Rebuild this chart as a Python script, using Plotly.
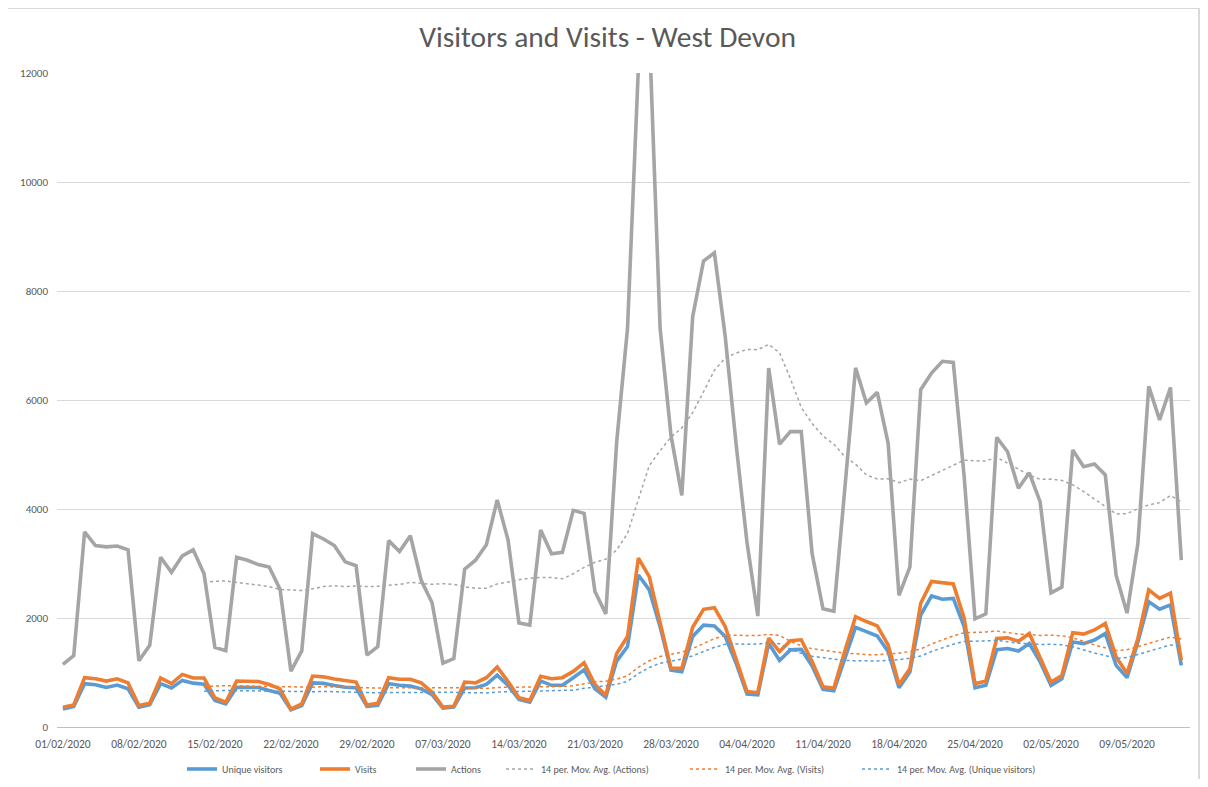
import pandas as pd
import plotly.graph_objects as go

start_date = "2020-02-01"
n_days = 104

unique_visitors = [
    330, 375, 795, 775, 725, 770, 700, 365, 410, 795, 715, 855, 805, 785,
    485, 425, 730, 730, 725, 670, 620, 315, 395, 810, 800, 760, 730, 720,
    380, 400, 795, 765, 750, 700, 595, 345, 365, 715, 720, 780, 950, 765,
    505, 455, 845, 765, 765, 905, 1050, 700, 545, 1210, 1475, 2790, 2515, 1840,
    1045, 1015, 1660, 1870, 1855, 1660, 1170, 605, 590, 1535, 1220, 1415, 1425, 1120,
    690, 665, 1260, 1830, 1750, 1670, 1385, 720, 1010, 2055, 2405, 2345, 2360, 1840,
    720, 765, 1420, 1440, 1395, 1530, 1195, 765, 885, 1560, 1530, 1595, 1715, 1130,
    905, 1560, 2300, 2160, 2240, 1130,
]

visits = [
    363, 405, 905, 885, 843, 885, 810, 395, 435, 900, 795, 965, 900, 900,
    535, 455, 843, 843, 835, 780, 700, 330, 425, 935, 920, 880, 855, 825,
    405, 435, 905, 875, 875, 810, 640, 365, 380, 825, 810, 905, 1100, 835,
    535, 485, 930, 885, 905, 1020, 1180, 780, 580, 1350, 1660, 3100, 2760, 1935,
    1075, 1075, 1830, 2160, 2190, 1840, 1260, 650, 630, 1630, 1385, 1585, 1600, 1200,
    740, 710, 1385, 2025, 1935, 1855, 1505, 780, 1070, 2270, 2670, 2640, 2625, 1995,
    795, 845, 1625, 1635, 1575, 1715, 1285, 825, 945, 1730, 1705, 1780, 1900, 1285,
    980, 1625, 2515, 2360, 2455, 1225,
]

actions = [
    1150, 1310, 3580, 3330, 3305, 3320, 3250, 1215, 1500, 3115, 2840, 3140, 3250, 2810,
    1460, 1400, 3115, 3060, 2980, 2935, 2525, 1025, 1395, 3550, 3450, 3330, 3030, 2960,
    1320, 1475, 3420, 3220, 3510, 2690, 2280, 1170, 1255, 2895, 3060, 3345, 4165, 3430,
    1910, 1870, 3615, 3180, 3205, 3975, 3920, 2485, 2075, 5230, 7320, 12100, 12800, 7320,
    5355, 4250, 7530, 8550, 8700, 7160, 5190, 3390, 2035, 6585, 5190, 5420, 5420, 3180,
    2170, 2125, 4350, 6590, 5945, 6140, 5205, 2415, 2935, 6190, 6495, 6710, 6690, 4600,
    1985, 2075, 5315, 5050, 4380, 4665, 4130, 2460, 2565, 5085, 4775, 4825, 4625, 2780,
    2090, 3365, 6250, 5635, 6230, 3060,
]

series_names = ["Unique visitors", "Visits", "Actions"]
ma_names = [
    "14 per. Mov. Avg. (Actions)",
    "14 per. Mov. Avg. (Visits)",
    "14 per. Mov. Avg. (Unique visitors)",
]
y_ticks = [0, 2000, 4000, 6000, 8000, 10000, 12000]

dates = pd.date_range(start_date, periods=n_days, freq="D")
df = pd.DataFrame(
    {"Unique visitors": unique_visitors, "Visits": visits, "Actions": actions},
    index=dates,
)
ma = df.rolling(14).mean()

colors = {"Unique visitors": "#5B9BD5", "Visits": "#ED7D31", "Actions": "#A5A5A5"}
font_family = "Carlito, Calibri, Lato, sans-serif"

# figure sits 8px inside the page (body margin)
W, H = 1192, 771

# legend entry text starting positions (figure px)
legend_text_x = [218, 351, 447, 537, 721, 893]
legend_ids = ["legend", "legend2", "legend3", "legend4", "legend5", "legend6"]

fig = go.Figure()
i = 0
for name in series_names:
    fig.add_trace(go.Scatter(
        x=df.index, y=df[name], mode="lines", name=name,
        line=dict(color=colors[name], width=3.6),
        legend=legend_ids[i],
    ))
    i += 1
for base, label in zip(["Actions", "Visits", "Unique visitors"], ma_names):
    fig.add_trace(go.Scatter(
        x=ma.index, y=ma[base], mode="lines", name=label,
        line=dict(color=colors[base], width=1.5, dash="dot"),
        legend=legend_ids[i],
    ))
    i += 1

x0 = pd.Timestamp(start_date) - pd.Timedelta(hours=13)
x1 = pd.Timestamp(start_date) + pd.Timedelta(days=103.8)

legend_layouts = {}
for lid, tx in zip(legend_ids, legend_text_x):
    legend_layouts[lid] = dict(
        orientation="h", x=(tx - 44) / W, xref="container", xanchor="left",
        y=1 - 761 / H, yref="container", yanchor="middle",
        font=dict(size=10, color="#595959"),
        itemwidth=30, bgcolor="rgba(0,0,0,0)",
    )

border = dict(color="#D9D9D9", width=2)

fig.update_layout(
    width=W, height=H,
    margin=dict(l=49, r=10, t=65, b=52, autoexpand=False),
    paper_bgcolor="white", plot_bgcolor="white",
    font=dict(family=font_family, color="#595959", size=10),
    title=dict(
        text="Visitors and Visits - West Devon",
        x=0.503, xref="container", xanchor="center",
        y=1 - 29 / H, yref="container", yanchor="middle",
        font=dict(family=font_family, size=29.5, color="#595959", weight=300),
    ),
    showlegend=True,
    xaxis=dict(
        type="date", range=[x0, x1],
        tickformat="%d/%m/%Y", dtick=7 * 24 * 3600 * 1000, tick0=start_date,
        showgrid=False, showline=True, linecolor="#BFBFBF", linewidth=1,
        ticks="", ticklabelstandoff=6,
        tickfont=dict(size=11.5, color="#595959"),
        zeroline=False,
    ),
    yaxis=dict(
        range=[0, 12000], tickvals=y_ticks, tickformat="d",
        showgrid=True, gridcolor="#D9D9D9", gridwidth=1,
        zeroline=False, showline=False, ticks="", ticklabelstandoff=8,
        tickfont=dict(size=11, color="#595959"),
    ),
    shapes=[
        dict(type="line", xref="paper", yref="paper",
             x0=-0.06, x1=1.008, y0=1.0995, y1=1.0995, line=border, layer="below"),
        dict(type="line", xref="paper", yref="paper",
             x0=1.008, x1=1.008, y0=1.0995, y1=-0.1, line=border, layer="below"),
    ],
    **legend_layouts,
)

fig.write_html("out.html")
